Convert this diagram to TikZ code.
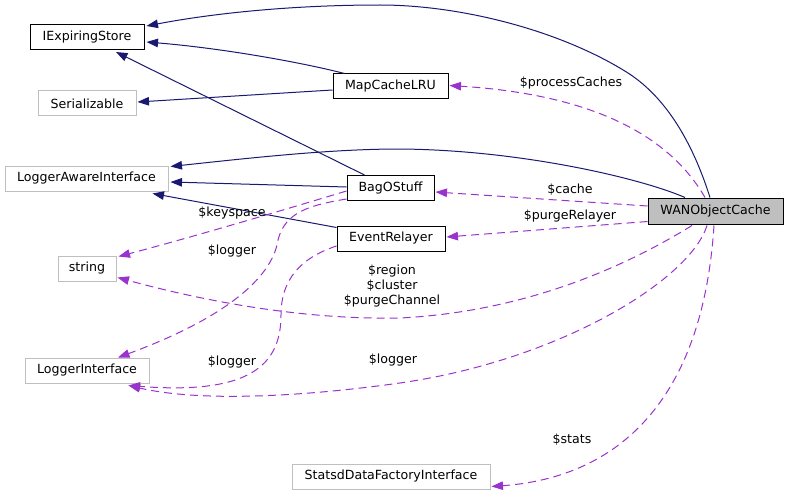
\documentclass[tikz,border=0pt]{standalone}
\usepackage{fontspec}
\setmainfont{DejaVu Sans}
\usetikzlibrary{arrows.meta,calc}
\definecolor{navyc}{HTML}{191970}
\definecolor{orchidc}{HTML}{9A32CD}
\definecolor{greyc}{HTML}{BFBFBF}
\begin{document}
\begin{tikzpicture}[x=1pt,y=-1pt,
  cls/.style={draw=black, line width=1pt, minimum height=25pt, inner sep=0pt, font=\fontsize{12.6}{15}\selectfont, fill=white},
  ext/.style={cls, draw=greyc},
  inh/.style={draw=navyc, line width=1pt, -{Triangle[length=11.5pt,width=8.5pt]}},
  usage/.style={draw=orchidc, line width=1pt, dash pattern=on 8pt off 5pt, -{Triangle[length=11.5pt,width=8.5pt]}},
  lbl/.style={font=\fontsize{12.6}{15}\selectfont, inner sep=0pt, align=center}]
\useasboundingbox (0,0) rectangle (788,495);

\node[cls, minimum width=114pt] (ies) at (87,37) {IExpiringStore};
\node[ext, minimum width=98pt] (ser) at (87,103.5) {Serializable};
\node[cls, minimum width=115pt] (mcl) at (390.5,86.5) {MapCacheLRU};
\node[ext, minimum width=163pt] (lai) at (86.5,178.5) {LoggerAwareInterface};
\node[cls, minimum width=87pt] (bag) at (390.5,188) {BagOStuff};
\node[cls, minimum width=108pt] (evr) at (391,238.5) {EventRelayer};
\node[cls, minimum width=135pt, minimum height=26pt, fill=greyc] (wan) at (715.5,211) {WANObjectCache};
\node[ext, minimum width=58pt] (str) at (87,268.5) {string};
\node[ext, minimum width=124pt] (li) at (87,370.5) {LoggerInterface};
\node[ext, minimum width=198pt] (sdf) at (391,476.5) {StatsdDataFactoryInterface};

% inheritance
\draw[inh] ($(wan.north)+(-5.5,0)$) .. controls (695,150) and (670,100) .. (628,73)
  .. controls (560,30) and (460,5) .. (380,5)
  .. controls (300,5) and (220,12) .. ($(ies.north east)+(2,2)$);
\draw[inh] ($(mcl.north west)+(12,0)$) .. controls (300,62) and (220,48) .. ($(ies.east)+(2,5)$);
\draw[inh] ($(mcl.west)+(0,3.5)$) -- ($(ser.east)+(1,-1.5)$);
\draw[inh] ($(wan.north)+(-30.5,0)$) .. controls (640,178) and (520,150) .. (400,149)
  .. controls (330,149) and (250,158) .. ($(lai.north east)+(2,1)$);
\draw[inh] ($(bag.west)+(0,-1)$) -- ($(lai.east)+(2,3.5)$);
\draw[inh] ($(bag.north west)+(18,0)$) -- ($(ies.south)+(29,2)$);
\draw[inh] ($(evr.north west)+(0,2)$) -- ($(lai.south east)+(-16,2)$);

% usage
\draw[usage] ($(wan.north)+(-10.5,0)$) .. controls (672,140) and (600,95) .. ($(mcl.east)+(1,-1)$);
\node[lbl] (l1) at (571,83) {\$processCaches};
\draw[usage] ($(wan.west)+(0,-5)$) -- ($(bag.east)+(1,4)$);
\node[lbl] (l2) at (570,190) {\$cache};
\draw[usage] ($(wan.west)+(0,10.5)$) -- ($(evr.east)+(1,-1.5)$);
\node[lbl] (l3) at (570,216) {\$purgeRelayer};
\draw[usage] ($(wan.south)+(-23.5,1)$) .. controls (620,270) and (520,312) .. (400,318)
  .. controls (300,320) and (200,300) .. ($(str.south east)+(1,-4)$);
\node[lbl] (l4) at (392,286) {\$region\\\$cluster\\\$purgeChannel};
\draw[usage] ($(wan.south)+(-8.5,1)$) .. controls (690,280) and (560,360) .. (400,383)
  .. controls (300,397) and (200,402) .. ($(li.south east)+(-21,2)$);
\node[lbl] (l5) at (393,360) {\$logger};
\draw[usage] ($(evr.west)+(0,7.5)$) .. controls (300,258) and (281,280) .. (281,315)
  .. controls (281,365) and (250,395) .. ($(li.south east)+(-21,2)$);
\node[lbl] (l6) at (232,362) {\$logger};
\draw[usage] ($(bag.west)+(0,3)$) .. controls (300,205) and (200,235) .. ($(str.north east)+(2,1)$);
\node[lbl] (l7) at (232,213) {\$keyspace};
\draw[usage] ($(bag.west)+(0,11)$) .. controls (310,205) and (285,212) .. (278,240)
  .. controls (272,280) and (220,320) .. ($(li.north)+(31,0)$);
\node[lbl] (l8) at (232,251) {\$logger};
\draw[usage] ($(wan.south)+(-1.5,1)$) .. controls (702,410) and (610,478) .. ($(sdf.south east)+(1,-3)$);
\node[lbl] (l9) at (572,440) {\$stats};
\end{tikzpicture}
\end{document}
